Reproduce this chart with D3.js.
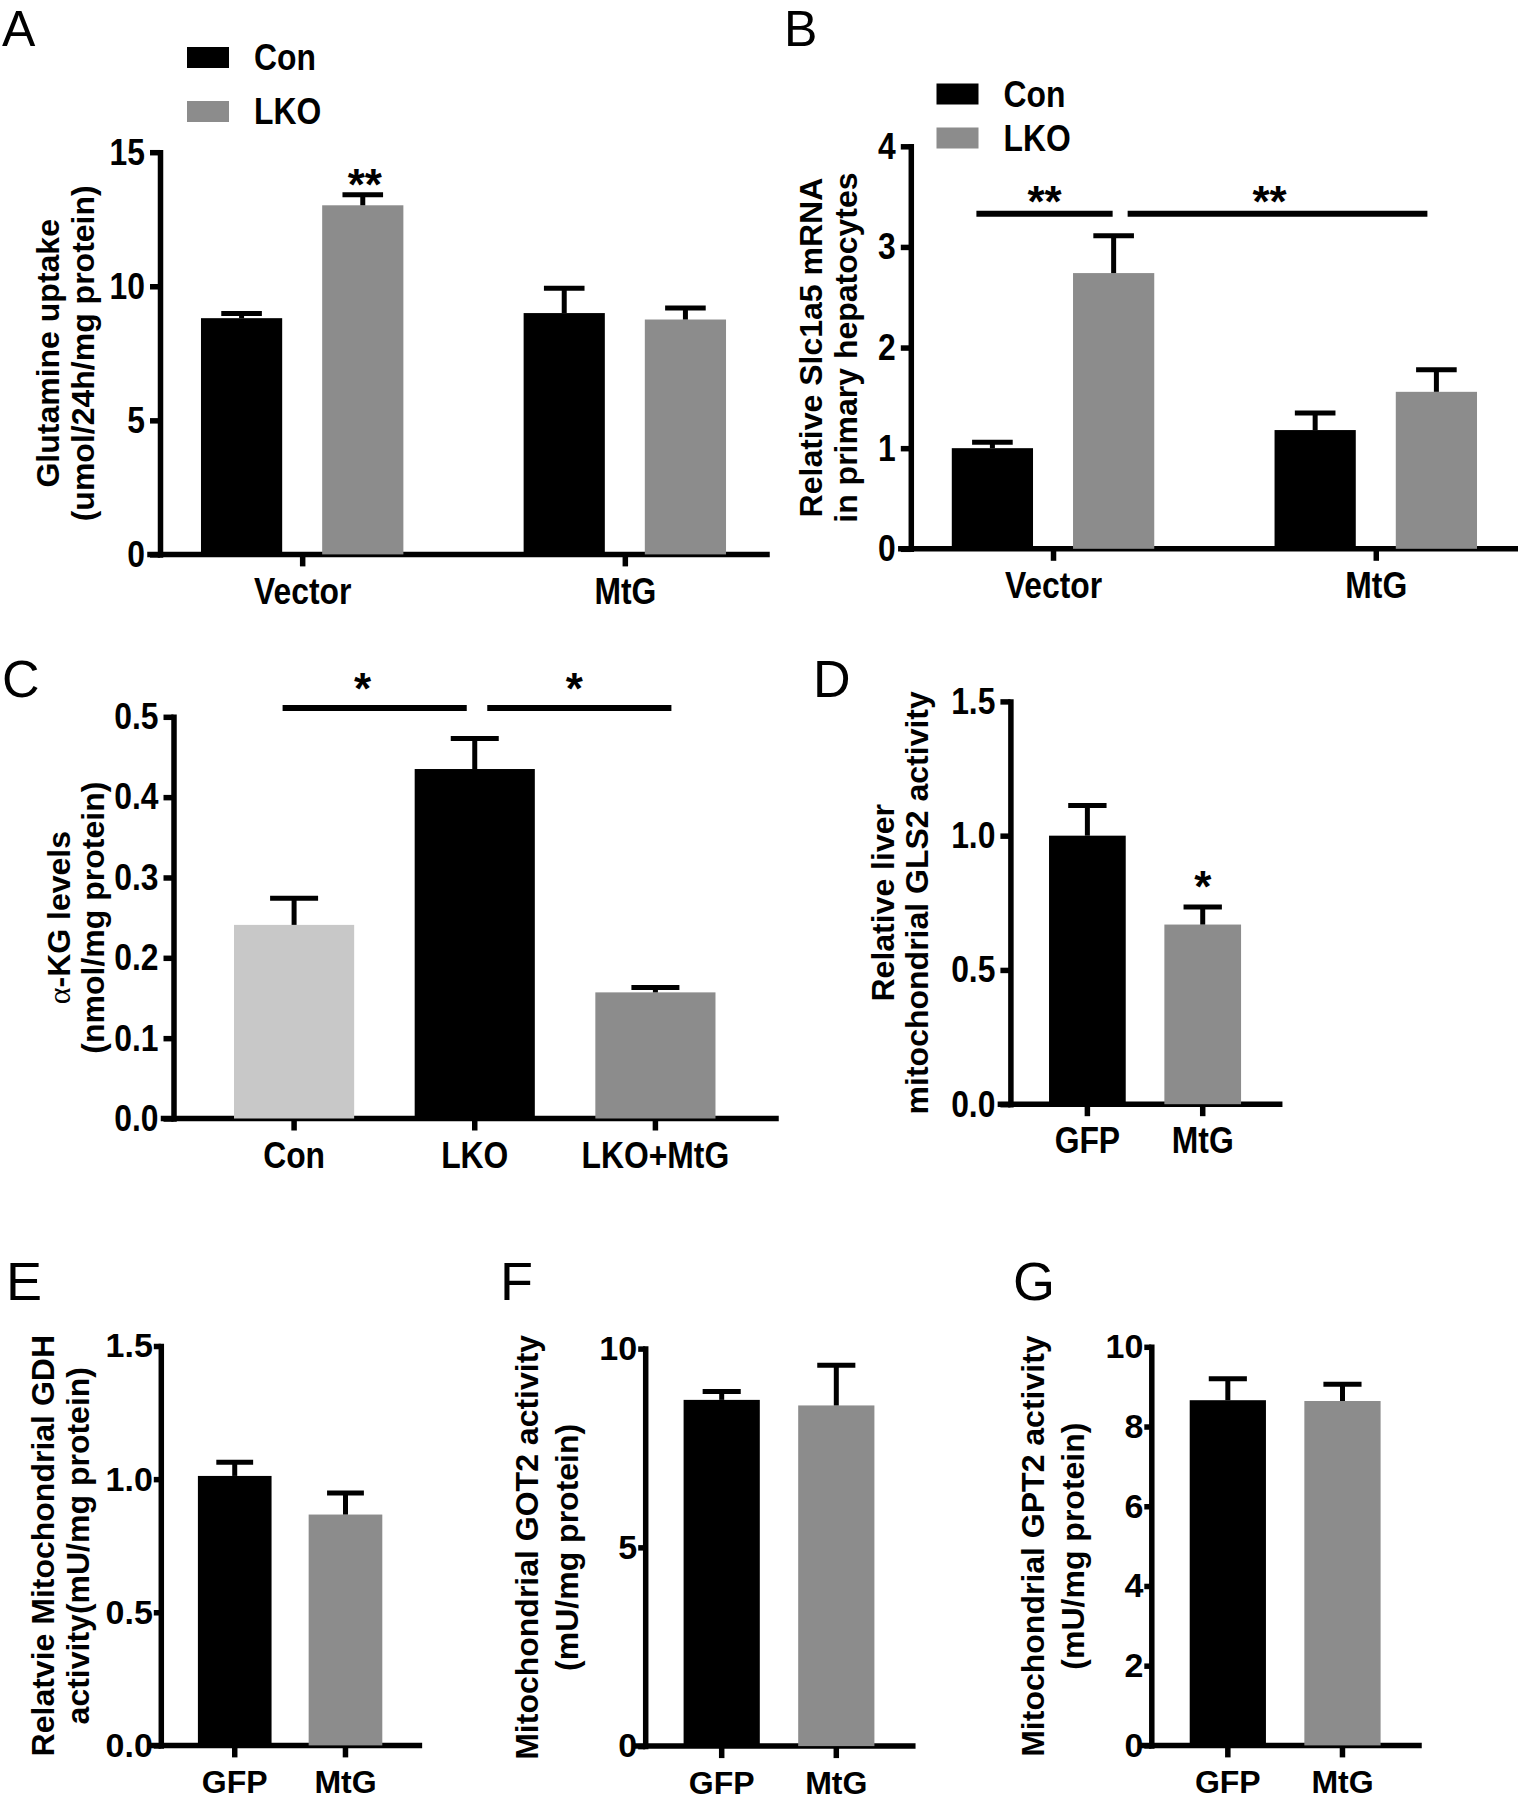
<!DOCTYPE html>
<html><head><meta charset="utf-8">
<script src="https://cdn.jsdelivr.net/npm/d3@7"></script>
<style>
body{margin:0;background:#fff;}
svg{display:block;background:#fff;}
text{font-family:"Liberation Sans",Arial,Helvetica,sans-serif;font-weight:bold;fill:#000;}
.plabel{font-weight:normal;}
</style></head><body>
<svg id="fig" width="1518" height="1800"></svg>
<script>
// ---------------- DATA ----------------
const groupsAB = ["Vector", "MtG"];
const seriesAB = ["Con", "LKO"];
const aCon = [8.81, 9.00];
const aConErr = [0.17, 0.93];
const aLKO = [13.02, 8.76];
const aLKOErr = [0.39, 0.43];
const aTicks = [0, 5, 10, 15];

const bCon = [1.00, 1.18];
const bConErr = [0.06, 0.17];
const bLKO = [2.74, 1.56];
const bLKOErr = [0.37, 0.22];
const bTicks = [0, 1, 2, 3, 4];

const cCats = ["Con", "LKO", "LKO+MtG"];
const cVals = [0.241, 0.435, 0.157];
const cErr = [0.033, 0.038, 0.006];
const cTicks = [0, 0.1, 0.2, 0.3, 0.4, 0.5];

const gfpCats = ["GFP", "MtG"];
const dVals = [1.00, 0.669];
const dErr = [0.112, 0.065];
const dTicks = [0, 0.5, 1.0, 1.5];

const eVals = [1.012, 0.867];
const eErr = [0.051, 0.081];
const eTicks = [0, 0.5, 1.0, 1.5];

const fVals = [8.71, 8.57];
const fErr = [0.21, 1.01];
const fTicks = [0, 5, 10];

const gVals = [8.66, 8.64];
const gErr = [0.54, 0.42];
const gTicks = [0, 2, 4, 6, 8, 10];

// ---------------- STYLE ----------------
const BLACK = "#000000", GRAY = "#8c8c8c", LIGHT = "#c8c8c8";
const AXW = 5.5, ERRW = 5, FS = 32, STARFS = 44;
const CFS = 37, CF = 0.86;   // condensed text (panels A-D)

const svg = d3.select("#fig");
svg.append("rect").attr("width", 1518).attr("height", 1800).attr("fill", "#fff");

function condense(sel) {
  sel.attr("font-size", CFS).each(function () {
    const L = this.getComputedTextLength();
    this.setAttribute("textLength", (L * CF).toFixed(2));
    this.setAttribute("lengthAdjust", "spacingAndGlyphs");
  });
}

function axes(cfg, xScale, fmt) {
  const g = svg.append("g");
  const y = d3.scaleLinear().domain(cfg.domain).range([cfg.yBot, cfg.yTop]);
  const ytSize = cfg.cond ? 10 : 7, ytPad = cfg.cond ? 5 : 1;
  const ya = g.append("g").attr("transform", `translate(${cfg.ax},0)`)
    .call(d3.axisLeft(y).tickValues(cfg.ticks).tickFormat(fmt).tickSize(ytSize).tickSizeOuter(0).tickPadding(ytPad));
  const xa = g.append("g").attr("transform", `translate(0,${cfg.yBot})`)
    .call(d3.axisBottom(xScale).tickSize(12).tickSizeOuter(0).tickPadding(cfg.cond ? 11 : 13));
  xa.select("path.domain").attr("d", `M${cfg.ax - 10},0H${cfg.xEnd}`);
  [ya, xa].forEach(a => {
    a.selectAll("path.domain").attr("stroke", "#000").attr("stroke-width", AXW).attr("stroke-linecap", "square");
    a.selectAll(".tick line").attr("stroke", "#000").attr("stroke-width", AXW);
    const t = a.selectAll(".tick text").attr("font-size", FS).attr("fill", "#000")
      .style("font-family", '"Liberation Sans", Arial, sans-serif').style("font-weight", "bold");
    if (cfg.cond) condense(t);
  });
  if (!cfg.cond) ya.selectAll(".tick text").attr("font-size", 34);
  // title
  const cy = (cfg.yTop + cfg.yBot) / 2;
  cfg.title.forEach((t, i) => {
    const tx = g.append("text").attr("transform", `rotate(-90)`)
      .attr("x", -cy).attr("y", cfg.titleX[i]).attr("text-anchor", "middle").attr("font-size", cfg.titleFS || FS);
    if (Array.isArray(t)) {
      t.forEach(s => tx.append("tspan").text(s.text)
        .style("font-family", s.serif ? '"Liberation Serif", "DejaVu Serif", serif' : null)
        .style("font-weight", s.serif ? "normal" : null));
    } else tx.text(t);
  });
  svg.append("text").attr("class", "plabel").attr("font-size", cfg.lfs || 50)
    .attr("x", cfg.lx).attr("y", cfg.ly).text(cfg.label);
  return y;
}

function errBar(y, cx, v, e, capW) {
  svg.append("line").attr("x1", cx).attr("x2", cx).attr("y1", y(v)).attr("y2", y(v + e))
    .attr("stroke", "#000").attr("stroke-width", ERRW);
  svg.append("line").attr("x1", cx - capW / 2).attr("x2", cx + capW / 2).attr("y1", y(v + e)).attr("y2", y(v + e))
    .attr("stroke", "#000").attr("stroke-width", ERRW);
}

function star(x, yv, txt) {
  svg.append("text").attr("x", x).attr("y", yv + 0.575 * STARFS).attr("text-anchor", "middle")
    .attr("font-size", STARFS).text(txt);
}

function sigLine(y, x1, x2, v) {
  svg.append("line").attr("x1", x1).attr("x2", x2).attr("y1", y(v)).attr("y2", y(v))
    .attr("stroke", "#000").attr("stroke-width", 6);
}

function grouped(cfg, con, conErr, lko, lkoErr) {
  const x0 = d3.scaleBand().domain(groupsAB).range([cfg.ax, cfg.xEnd]).paddingInner(0.3727).paddingOuter(0.127);
  const x1 = d3.scaleBand().domain(seriesAB).range([0, x0.bandwidth()]).paddingInner(0.33);
  const xt = d3.scalePoint().domain(groupsAB).range([x0(groupsAB[0]) + x0.bandwidth() / 2, x0(groupsAB[1]) + x0.bandwidth() / 2]);
  const y = axes(cfg, xt, d3.format("d"));
  const vals = {Con: con, LKO: lko}, errs = {Con: conErr, LKO: lkoErr}, cols = {Con: BLACK, LKO: GRAY};
  const bw = x1.bandwidth();
  groupsAB.forEach((gname, gi) => {
    seriesAB.forEach(s => {
      const bx = x0(gname) + x1(s);
      svg.append("rect").attr("x", bx).attr("y", y(vals[s][gi])).attr("width", bw)
        .attr("height", y(0) - y(vals[s][gi])).attr("fill", cols[s]);
      errBar(y, bx + bw / 2, vals[s][gi], errs[s][gi], Math.min(bw * 0.5, 48));
    });
  });
  // legend
  seriesAB.forEach((s, i) => {
    svg.append("rect").attr("x", cfg.legX).attr("y", cfg.legY[i]).attr("width", 42).attr("height", 21).attr("fill", cols[s]);
    const t = svg.append("text").attr("x", cfg.legX + 67).attr("y", cfg.legY[i] + 23).text(s);
    condense(t);
  });
  return {y, x0, x1, center: (gname, s) => x0(gname) + x1(s) + bw / 2};
}

function single(cfg, cats, vals, errs, colors, fmt) {
  const x = d3.scaleBand().domain(cats).range([cfg.ax, cfg.xEnd]).paddingInner(0.335).paddingOuter(0.335);
  const y = axes(cfg, x, fmt);
  const bw = x.bandwidth();
  cats.forEach((c, i) => {
    svg.append("rect").attr("x", x(c)).attr("y", y(vals[i])).attr("width", bw)
      .attr("height", y(0) - y(vals[i])).attr("fill", colors[i]);
    errBar(y, x(c) + bw / 2, vals[i], errs[i], Math.min(bw * 0.5, 48));
  });
  return {y, x, center: c => x(c) + bw / 2};
}

// ---------------- PANEL A ----------------
const A = grouped({label: "A", lx: 2, ly: 46, lfs: 50, ax: 160, xEnd: 767, yTop: 152.2, yBot: 554.4, cond: true,
  domain: [0, 15], ticks: aTicks, title: ["Glutamine uptake", "(umol/24h/mg protein)"], titleX: [59, 94],
  legX: 187, legY: [47, 101]}, aCon, aConErr, aLKO, aLKOErr);
star(A.center("Vector", "LKO") + 2, A.y(14.15), "**");

// ---------------- PANEL B ----------------
const B = grouped({label: "B", lx: 784, ly: 46, lfs: 50, ax: 910.8, xEnd: 1518, yTop: 146.3, yBot: 548.8, cond: true,
  domain: [0, 4], ticks: bTicks, title: ["Relative Slc1a5 mRNA", "in primary hepatocytes"], titleX: [822, 857],
  legX: 936.5, legY: [83.5, 127.5]}, bCon, bConErr, bLKO, bLKOErr);
const b1a = B.center("Vector", "Con") - 16, b1b = B.center("Vector", "LKO") - 1;
const b2a = B.center("Vector", "LKO") + 14, b2b = B.center("MtG", "LKO") - 9;
sigLine(B.y, b1a, b1b, 3.33);
sigLine(B.y, b2a, b2b, 3.33);
star((b1a + b1b) / 2, B.y(3.547), "**");
star((b2a + b2b) / 2 - 8, B.y(3.547), "**");

// ---------------- PANEL C ----------------
const C = single({label: "C", lx: 2, ly: 697, lfs: 52, ax: 173.5, xEnd: 776, yTop: 716.8, yBot: 1118.5, cond: true,
  domain: [0, 0.5], ticks: cTicks,
  title: [[{text: "α", serif: true}, {text: "-KG levels"}], "(nmol/mg protein)"], titleX: [70, 104]},
  cCats, cVals, cErr, [LIGHT, BLACK, GRAY], d3.format(".1f"));
const c1a = C.center("Con") - 11.5, c1b = C.center("LKO") - 8;
const c2a = C.center("LKO") + 12.5, c2b = C.center("LKO+MtG") + 16;
sigLine(C.y, c1a, c1b, 0.511);
sigLine(C.y, c2a, c2b, 0.511);
star((c1a + c1b) / 2 - 12, C.y(0.547), "*");
star((c2a + c2b) / 2 - 5, C.y(0.547), "*");

// ---------------- PANEL D ----------------
const D = single({label: "D", lx: 813, ly: 697, lfs: 52, ax: 1010.4, xEnd: 1279.7, yTop: 701.4, yBot: 1104.2, cond: true,
  domain: [0, 1.5], ticks: dTicks, title: ["Relative liver", "mitochondrial GLS2 activity"], titleX: [894, 928]},
  gfpCats, dVals, dErr, [BLACK, GRAY], d3.format(".1f"));
star(D.center("MtG"), D.y(0.848), "*");

// ---------------- PANEL E ----------------
single({label: "E", lx: 6, ly: 1300, lfs: 54, ax: 160.8, xEnd: 419.4, yTop: 1346, yBot: 1745.4,
  domain: [0, 1.5], ticks: eTicks, title: ["Relatvie Mitochondrial GDH", "activity(mU/mg protein)"], titleX: [54, 89]},
  gfpCats, eVals, eErr, [BLACK, GRAY], d3.format(".1f"));

// ---------------- PANEL F ----------------
single({label: "F", lx: 500, ly: 1300, lfs: 54, ax: 645.2, xEnd: 912.8, yTop: 1348.6, yBot: 1746.1,
  domain: [0, 10], ticks: fTicks, title: ["Mitochondrial GOT2 activity", "(mU/mg protein)"], titleX: [538, 578]},
  gfpCats, fVals, fErr, [BLACK, GRAY], d3.format("d"));

// ---------------- PANEL G ----------------
single({label: "G", lx: 1013, ly: 1300, lfs: 54, ax: 1151.3, xEnd: 1419, yTop: 1346.8, yBot: 1745.4,
  domain: [0, 10], ticks: gTicks, title: ["Mitochondrial GPT2 activity", "(mU/mg protein)"], titleX: [1044, 1084]},
  gfpCats, gVals, gErr, [BLACK, GRAY], d3.format("d"));
</script>
</body></html>
